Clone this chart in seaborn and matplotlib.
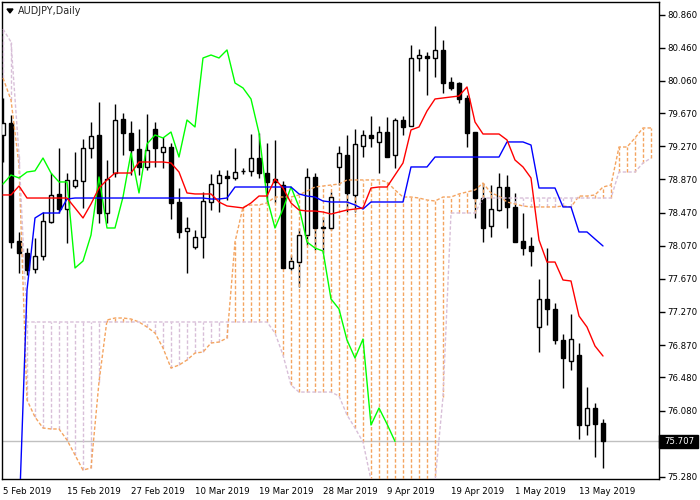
import numpy as np
import pandas as pd
import seaborn as sns
import matplotlib.pyplot as plt
from matplotlib.patches import Rectangle, Polygon

# AUDJPY daily candles, oldest first
opens = [79.407, 79.552, 78.127, 77.982, 77.789, 77.946, 78.356, 78.695, 78.513, 78.791,
         78.852, 79.250, 79.407, 78.465, 78.948, 79.600, 79.431, 79.238, 79.021, 79.480,
         79.202, 79.262, 78.598, 78.248, 78.055, 78.175, 78.598, 78.827, 78.912, 78.888,
         78.970, 78.972, 79.129, 78.948, 78.876, 78.803, 77.801, 77.873, 78.199, 78.900,
         78.296, 78.284, 79.021, 79.166, 78.683, 79.274, 79.407, 79.323, 79.443, 79.166,
         79.588, 79.516, 80.337, 80.361, 80.337, 80.434, 80.047, 80.035, 79.854, 79.443,
         78.646, 78.308, 78.501, 78.779, 78.538, 78.127, 78.067, 77.088, 77.427, 77.306,
         76.931, 76.678, 76.750, 75.905, 76.110, 75.929]
highs = [79.854, 79.649, 78.236, 78.042, 78.163, 78.477, 78.948, 79.250, 78.948, 79.202,
         79.359, 79.564, 79.806, 79.105, 79.782, 79.673, 79.576, 79.480, 79.661, 79.564,
         79.383, 79.311, 78.767, 78.417, 78.260, 78.719, 78.936, 78.984, 78.984, 79.250,
         79.009, 79.419, 79.431, 79.311, 79.347, 78.852, 77.958, 78.284, 79.009, 78.948,
         78.417, 78.719, 79.274, 79.407, 79.480, 79.468, 79.637, 79.516, 79.625, 79.612,
         79.637, 80.494, 80.446, 80.409, 80.723, 80.554, 80.108, 80.047, 79.890, 79.443,
         78.827, 78.803, 78.948, 78.924, 78.707, 78.465, 78.175, 77.668, 78.042, 77.378,
         77.004, 77.245, 76.895, 76.364, 76.171, 75.977]
lows = [79.081, 78.042, 77.741, 77.716, 77.741, 77.898, 78.344, 78.465, 78.103, 78.767,
        78.526, 79.129, 78.344, 78.344, 78.900, 79.166, 78.924, 78.924, 78.984, 79.021,
        79.009, 78.393, 78.163, 77.741, 78.030, 77.922, 78.501, 78.477, 78.622, 78.864,
        78.936, 78.912, 78.888, 78.586, 78.586, 77.801, 77.777, 77.571, 78.079, 78.018,
        77.982, 78.260, 78.803, 78.477, 78.477, 79.141, 79.262, 78.948, 79.141, 79.009,
        79.407, 79.516, 80.180, 79.890, 80.108, 79.914, 79.951, 79.794, 79.262, 78.405,
        78.115, 78.175, 78.489, 78.284, 78.115, 77.958, 77.825, 76.786, 77.112, 76.883,
        76.352, 76.569, 75.736, 75.784, 75.518, 75.386]
closes = [79.552, 78.115, 77.982, 77.777, 77.946, 78.369, 78.683, 78.513, 78.864, 78.864,
          79.250, 79.395, 78.465, 78.876, 79.588, 79.431, 79.226, 79.021, 79.226, 79.250,
          79.262, 78.586, 78.236, 78.284, 78.175, 78.610, 78.815, 78.924, 78.888, 78.960,
          78.974, 79.129, 78.948, 78.840, 78.840, 77.801, 77.885, 78.199, 78.900, 78.284,
          78.284, 78.658, 79.190, 78.707, 79.298, 79.407, 79.371, 79.443, 79.141, 79.588,
          79.504, 80.337, 80.373, 80.337, 80.434, 80.035, 79.975, 79.842, 79.431, 78.646,
          78.284, 78.513, 78.779, 78.538, 78.115, 78.042, 78.006, 77.427, 77.306, 76.931,
          76.714, 76.943, 75.905, 76.110, 75.917, 75.707]

# Ichimoku lines
tenkan = [78.683, 78.683, 78.791, 78.646, 78.646, 78.646, 78.646, 78.646, 78.646, 78.526,
          78.405, 78.574, 78.767, 78.864, 78.948, 78.948, 78.948, 79.081, 79.081, 79.081,
          79.081, 79.069, 78.960, 78.707, 78.695, 78.695, 78.695, 78.598, 78.550, 78.538,
          78.526, 78.586, 78.670, 78.670, 78.876, 78.767, 78.586, 78.501, 78.489, 78.489,
          78.477, 78.453, 78.477, 78.501, 78.513, 78.526, 78.767, 78.779, 78.779, 78.924,
          79.069, 79.468, 79.504, 79.697, 79.842, 79.854, 79.866, 79.878, 79.987, 79.564,
          79.419, 79.419, 79.419, 79.347, 79.105, 79.021, 78.888, 78.139, 77.873, 77.873,
          77.656, 77.644, 77.221, 77.088, 76.859, 76.738]
kijun = [73.500, 73.500, 74.758, 77.535, 78.405, 78.465, 78.465, 78.465, 78.634, 78.646,
         78.646, 78.646, 78.646, 78.646, 78.646, 78.646, 78.646, 78.646, 78.646, 78.646,
         78.646, 78.646, 78.646, 78.646, 78.646, 78.646, 78.634, 78.634, 78.646, 78.779,
         78.779, 78.779, 78.779, 78.779, 78.779, 78.779, 78.779, 78.695, 78.670, 78.658,
         78.610, 78.598, 78.598, 78.598, 78.562, 78.513, 78.598, 78.598, 78.598, 78.598,
         78.598, 79.021, 79.021, 79.021, 79.141, 79.141, 79.141, 79.141, 79.141, 79.141,
         79.141, 79.141, 79.141, 79.323, 79.323, 79.323, 79.286, 78.767, 78.767, 78.767,
         78.538, 78.538, 78.236, 78.236, 78.151, 78.067]
span_a = [80.095, 79.830, 79.045, 76.207, 76.001, 75.869, 75.857, 75.857, 75.724, 75.543,
          75.361, 75.386, 76.424, 77.173, 77.197, 77.197, 77.185, 77.149, 77.088, 77.016,
          76.835, 76.593, 76.629, 76.690, 76.774, 76.786, 76.895, 76.907, 76.955, 78.115,
          78.538, 78.562, 78.562, 78.586, 78.658, 78.658, 78.658, 78.683, 78.731, 78.779,
          78.791, 78.803, 78.815, 78.864, 78.864, 78.864, 78.864, 78.864, 78.840, 78.743,
          78.658, 78.658, 78.646, 78.622, 78.610, 78.658, 78.658, 78.695, 78.719, 78.743,
          78.827, 78.707, 78.670, 78.598, 78.574, 78.550, 78.538, 78.538, 78.538, 78.538,
          78.550, 78.538, 78.670, 78.670, 78.683, 78.779, 78.803, 79.262, 79.262, 79.371,
          79.492, 79.492]
span_b = [80.687, 80.530, 79.166, 77.149, 77.149, 77.149, 77.149, 77.149, 77.149, 77.149,
          77.149, 77.149, 77.149, 77.149, 77.149, 77.149, 77.149, 77.149, 77.149, 77.149,
          77.149, 77.149, 77.149, 77.149, 77.149, 77.149, 77.149, 77.149, 77.149, 77.149,
          77.149, 77.149, 77.149, 77.149, 77.016, 76.750, 76.388, 76.303, 76.303, 76.303,
          76.303, 76.303, 76.255, 76.026, 75.869, 75.700, 75.241, 74.758, 74.758, 74.758,
          74.758, 74.758, 74.758, 74.758, 75.216, 76.243, 78.465, 78.465, 78.465, 78.465,
          78.646, 78.646, 78.646, 78.646, 78.646, 78.646, 78.646, 78.646, 78.646, 78.646,
          78.646, 78.646, 78.646, 78.646, 78.646, 78.646, 78.646, 78.960, 78.960, 78.960,
          79.069, 79.129]

date_labels = ['5 Feb 2019', '15 Feb 2019', '27 Feb 2019', '10 Mar 2019', '19 Mar 2019',
               '28 Mar 2019', '9 Apr 2019', '19 Apr 2019', '1 May 2019', '13 May 2019']
price_ticks = [80.860, 80.460, 80.060, 79.670, 79.270, 78.870, 78.470, 78.070,
               77.670, 77.270, 76.870, 76.480, 76.080, 75.280]
last_price = 75.707

df = pd.DataFrame({'open': opens, 'high': highs, 'low': lows, 'close': closes,
                   'tenkan': tenkan, 'kijun': kijun})
df['bar'] = np.arange(len(df))
chikou = df['close'].shift(-26).dropna()
cloud = pd.DataFrame({'a': span_a, 'b': span_b})
cloud['bar'] = np.arange(len(cloud))

sns.set_style('white')
plt.rcParams['font.family'] = ['DejaVu Sans']

fig = plt.figure(figsize=(7, 5), dpi=100)
ax = fig.add_axes([2 / 700, 21 / 500, 657 / 700, 477 / 500])

dash = (0, (2.5, 1.5))

# kumo hatching: sandy brown when span A is on top, thistle otherwise
up = cloud['a'] >= cloud['b']
ax.vlines(cloud.loc[up, 'bar'], cloud.loc[up, 'b'], cloud.loc[up, 'a'],
          colors='#F4A460', linestyles=[dash], lw=1, zorder=3)
ax.vlines(cloud.loc[~up, 'bar'], cloud.loc[~up, 'a'], cloud.loc[~up, 'b'],
          colors='#D8BFD8', linestyles=[dash], lw=1, zorder=3)

# current price line
ax.axhline(last_price, color='#C0C0C0', lw=1, zorder=1)

# candles
ax.vlines(df['bar'], df['low'], df['high'], colors='black', lw=1, zorder=2)
bull = df['close'] >= df['open']
body_lo = df[['open', 'close']].min(axis=1)
body_h = (df['close'] - df['open']).abs()
ax.bar(df['bar'], body_h, bottom=body_lo, width=0.55,
       color=np.where(bull, 'white', 'black'), edgecolor='black', lw=1, zorder=4)

# indicator lines
sns.lineplot(data=cloud, x='bar', y='a', ax=ax, color='#F4A460', lw=1, linestyle=dash, zorder=5)
sns.lineplot(data=cloud, x='bar', y='b', ax=ax, color='#D8BFD8', lw=1, linestyle=dash, zorder=5)
sns.lineplot(x=chikou.index, y=chikou.values, ax=ax, color='#00FF00', lw=1, zorder=6)
sns.lineplot(data=df, x='bar', y='kijun', ax=ax, color='#0000FF', lw=1, zorder=6)
sns.lineplot(data=df, x='bar', y='tenkan', ax=ax, color='#FF0000', lw=1, zorder=6)

ax.set_xlim(-0.125, 82)
ax.set_ylim(75.253, 81.013)
ax.set_xlabel('')
ax.set_ylabel('')

for s in ax.spines.values():
    s.set_color('black')
    s.set_linewidth(1)

ax.yaxis.tick_right()
ax.set_yticks(price_ticks)
ax.set_yticklabels([f'{p:.3f}' for p in price_ticks])
ax.set_xticks(np.arange(0, 8 * len(date_labels), 8))
ax.set_xticklabels(date_labels, ha='left')
ax.tick_params(axis='both', direction='out', length=4, width=1, colors='black',
               labelsize=6.2, pad=2)
ax.tick_params(axis='x', pad=1.5)

# last price tag on the right scale
tr = ax.get_yaxis_transform()
ax.add_patch(Rectangle((1.0, last_price - 0.075), 39 / 657, 0.15, transform=tr,
                       facecolor='black', edgecolor='black', clip_on=False, zorder=10))
ax.text(1.0 + 5 / 657, last_price, f'{last_price:.3f}', transform=tr, color='white',
        fontsize=6.2, va='center', ha='left', zorder=11, clip_on=False)

# symbol caption
fig.add_artist(Polygon([[7 / 700, 1 - 9 / 500], [13 / 700, 1 - 9 / 500], [10 / 700, 1 - 13 / 500]],
                       closed=True, color='black', transform=fig.transFigure))
fig.text(18 / 700, 1 - 11 / 500, 'AUDJPY,Daily', fontsize=6.9, va='center', ha='left')

fig.savefig('out.png', dpi=100)
